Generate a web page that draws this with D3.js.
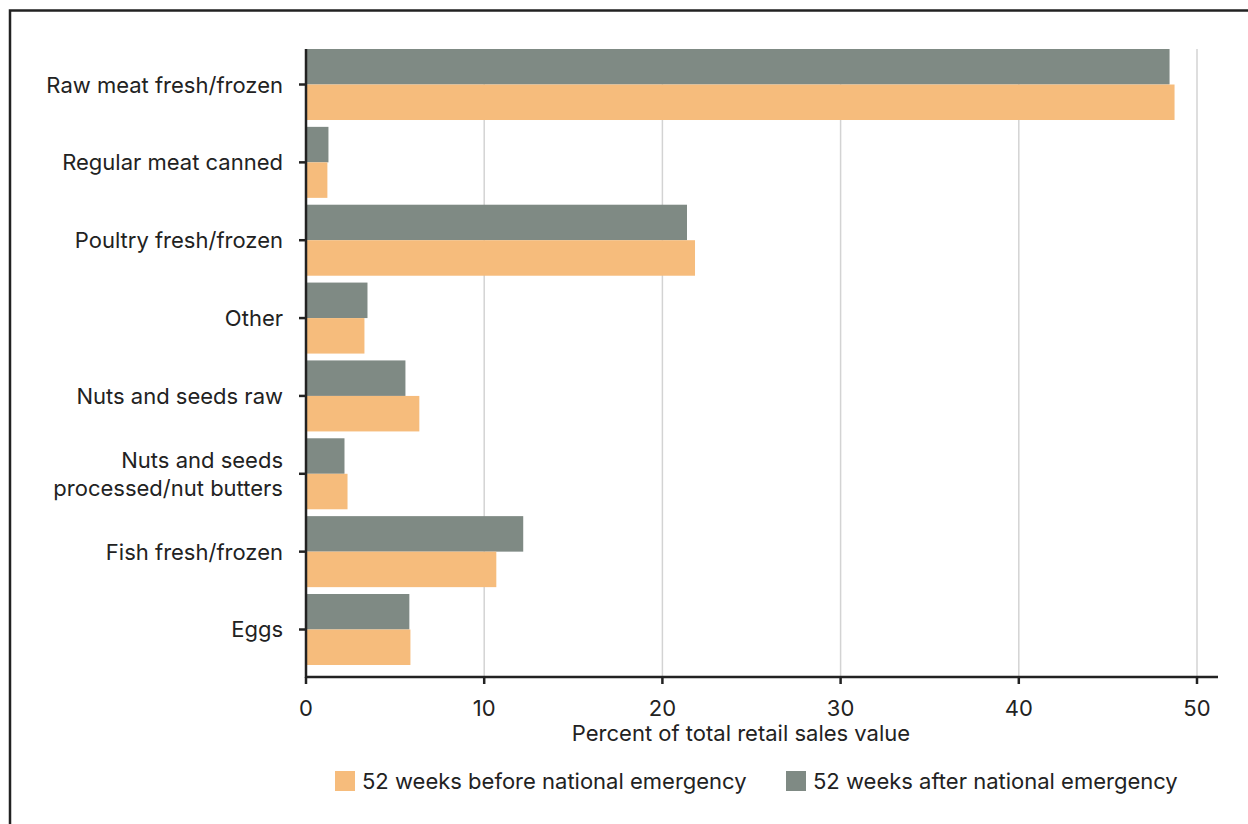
<!DOCTYPE html>
<html><head><meta charset="utf-8">
<script src="https://cdn.jsdelivr.net/npm/d3@7"></script>
<style>body{margin:0;background:#fff}svg{display:block}text{font-family:Inter,"Noto Sans",sans-serif;fill:#222}</style>
</head><body>
<svg id="c" width="1248" height="824"></svg>
<script>
const categories = ["Raw meat fresh/frozen","Regular meat canned","Poultry fresh/frozen","Other","Nuts and seeds raw","Nuts and seeds\nprocessed/nut butters","Fish fresh/frozen","Eggs"];
const before = [48.74, 1.2, 21.83, 3.28, 6.36, 2.33, 10.68, 5.86];
const after = [48.46, 1.26, 21.38, 3.45, 5.58, 2.16, 12.19, 5.8];
const xTicks = [0,10,20,30,40,50];
const seriesNames = ["52 weeks before national emergency","52 weeks after national emergency"];
const colors = {before:"#f6bc7c", after:"#7f8a84"};
const FS = 22;

const svg = d3.select("#c");
svg.append("rect").attr("x",10).attr("y",10.5).attr("width",1300).attr("height",900)
  .attr("fill","none").attr("stroke","#222").attr("stroke-width",2.5);

const x = d3.scaleLinear().domain([0,50]).range([306,1197]);
const y = d3.scaleBand().domain(categories).range([49,665]).paddingInner(0.088).paddingOuter(0);
const sub = d3.scaleBand().domain(["after","before"]).range([0,y.bandwidth()]);

svg.append("g").selectAll("line").data(xTicks.slice(1)).join("line")
  .attr("x1",d=>x(d)).attr("x2",d=>x(d)).attr("y1",49).attr("y2",677)
  .attr("stroke","#d3d3d3").attr("stroke-width",1.5);

const g = svg.append("g");
categories.forEach((c,i)=>{
  g.append("rect").attr("x",x(0)).attr("y",y(c)+sub("after")).attr("width",x(after[i])-x(0)).attr("height",sub.bandwidth()).attr("fill",colors.after);
  g.append("rect").attr("x",x(0)).attr("y",y(c)+sub("before")).attr("width",x(before[i])-x(0)).attr("height",sub.bandwidth()).attr("fill",colors.before);
});

const xa = svg.append("g").attr("transform","translate(0,677)");
xa.append("line").attr("x1",305).attr("x2",1218).attr("stroke","#222").attr("stroke-width",2.5);
xa.selectAll(".t").data(xTicks).join("line").attr("x1",d=>x(d)).attr("x2",d=>x(d)).attr("y1",0).attr("y2",7).attr("stroke","#222").attr("stroke-width",2.5);
xa.selectAll("text").data(xTicks).join("text").attr("x",d=>x(d)).attr("y",39).attr("text-anchor","middle").attr("font-size",FS).text(d=>d);
svg.append("text").attr("x",741).attr("y",741).attr("text-anchor","middle").attr("font-size",FS).text("Percent of total retail sales value");

const ya = svg.append("g");
ya.append("line").attr("x1",306).attr("x2",306).attr("y1",49).attr("y2",678).attr("stroke","#222").attr("stroke-width",2.5);
categories.forEach(c=>{
  const cy = y(c)+y.bandwidth()/2;
  ya.append("line").attr("x1",299).attr("x2",306).attr("y1",cy).attr("y2",cy).attr("stroke","#222").attr("stroke-width",2.5);
  const lines = c.split("\n");
  const t = ya.append("text").attr("text-anchor","end").attr("font-size",FS);
  lines.forEach((l,j)=>{
    t.append("tspan").attr("x",283).attr("y",cy+8+(j-(lines.length-1)/2)*28).text(l);
  });
});

const leg = [{k:"before",x:335},{k:"after",x:786}];
leg.forEach((l,i)=>{
  svg.append("rect").attr("x",l.x).attr("y",771).attr("width",20).attr("height",20).attr("fill",colors[l.k]);
  svg.append("text").attr("x",l.x+27).attr("y",789).attr("font-size",FS).text(seriesNames[i]);
});
</script></body></html>
